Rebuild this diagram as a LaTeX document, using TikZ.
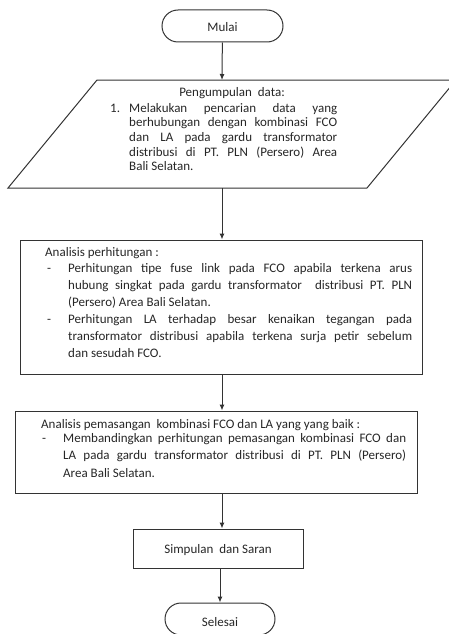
\documentclass[tikz,border=0pt]{standalone}
\usepackage{fontspec}
\setmainfont{Carlito}
\usetikzlibrary{arrows.meta}

\begin{document}
\begin{tikzpicture}[x=1pt,y=-1pt]
	\clip (0,0) rectangle (449,634);

	% shapes
	\begin{scope}[every node/.style={draw=black!80,line width=1pt,inner sep=0pt}]
	\node[rounded corners=16pt,minimum width=121pt,minimum height=32pt] (Mulai) at (222.5,26) {};
	\node[minimum width=402pt,minimum height=134pt] (Analisis) at (221,307) {};
	\node[minimum width=402pt,minimum height=82pt] (Pemasangan) at (216,452) {};
	\node[minimum width=170pt,minimum height=39pt] (Simpulan) at (218,548.5) {};
	\node[rounded corners=16pt,minimum width=110pt,minimum height=32pt] (Selesai) at (220,619) {};
	\end{scope}
	\draw[black!80,line width=1pt] (8,188) -- (97,80) -- (456,80) -- (367,188) -- cycle;
	\coordinate (PTop) at (222,80);
	\coordinate (PBot) at (222,188);

	% texts
	\begin{scope}[every node/.style={inner sep=0pt,text=black!85,font=\fontsize{13}{14.7}\selectfont}]
	\node (MulaiT) at (222.5,27) {Mulai};
	\node[anchor=base] (DataT) at (232,96) {Pengumpulan\ \ data:};
	\node[anchor=base west] (DataN) at (110,112) {1.};
	\node[anchor=base west,text width=208pt,align=justify] (DataI) at (129,112)
		{Melakukan pencarian data yang\linebreak berhubungan dengan kombinasi FCO\linebreak dan LA pada gardu transformator\linebreak distribusi di PT. PLN (Persero) Area\linebreak Bali Selatan.};
	\end{scope}

	\begin{scope}[every node/.style={inner sep=0pt,text=black!85,font=\fontsize{13}{17}\selectfont}]
	\node[anchor=base west] (AnalisisT) at (45,256) {Analisis perhitungan :};
	\node[anchor=base west] (AnalisisD1) at (47,272) {-};
	\node[anchor=base west,text width=344pt,align=justify] (AnalisisI1) at (68,272)
		{Perhitungan tipe fuse link pada FCO apabila terkena arus\linebreak hubung singkat pada gardu transformator\ \ distribusi PT. PLN\linebreak (Persero) Area Bali Selatan.};
	\node[anchor=base west] (AnalisisD2) at (47,323) {-};
	\node[anchor=base west,text width=344pt,align=justify] (AnalisisI2) at (68,323)
		{Perhitungan LA terhadap besar kenaikan tegangan pada\linebreak transformator distribusi apabila terkena surja petir sebelum\linebreak dan sesudah FCO.};
	\end{scope}

	\begin{scope}[every node/.style={inner sep=0pt,text=black!85,font=\fontsize{13}{17.5}\selectfont}]
	\node[anchor=base west] (PemasanganT) at (41,428) {Analisis pemasangan\ \ kombinasi FCO dan LA yang yang baik :};
	\node[anchor=base west] (PemasanganD) at (42,442) {-};
	\node[anchor=base west,text width=343pt,align=justify] (PemasanganI) at (63,442)
		{Membandingkan perhitungan pemasangan kombinasi FCO dan\linebreak LA pada gardu transformator distribusi di PT. PLN (Persero)\linebreak Area Bali Selatan.};
	\node (SimpulanT) at (218,550) {Simpulan\ \ dan Saran};
	\node (SelesaiT) at (220,622) {Selesai};
	\end{scope}

	% arrows
	\begin{scope}[>={Latex[length=6pt,width=5pt]},
	every edge/.style={draw=black!80,line width=1pt}]
	\path [->] (Mulai) edge (PTop);
	\path [->] (PBot) edge (PBot |- Analisis.north);
	\path [->] (PBot |- Analisis.south) edge (PBot |- Pemasangan.north);
	\path [->] (PBot |- Pemasangan.south) edge (PBot |- Simpulan.north);
	\path [->] (Selesai |- Simpulan.south) edge (Selesai.north);
	\end{scope}
\end{tikzpicture}
\end{document}
